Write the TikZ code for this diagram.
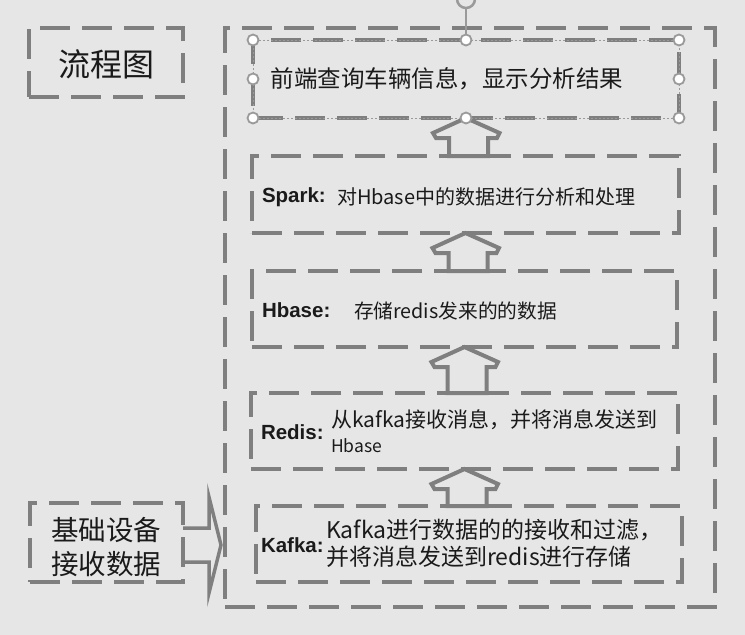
\documentclass[tikz,border=0pt]{standalone}
\usepackage{fontspec}
\setmainfont{Noto Sans CJK SC}
\newfontfamily\labfont{Liberation Sans}
\usetikzlibrary{calc}
\definecolor{bg}{HTML}{E6E6E6}
\definecolor{ln}{HTML}{7F7F7F}
\definecolor{tx}{HTML}{1A1A1A}
\definecolor{hd}{HTML}{9A9A9A}
\newcommand\blockup[2]{%
  \coordinate (hr-#1) at ($(#1.south)+(33.5,15)$);
  \coordinate (lr-#1) at ($(#1.south)+(31,20)$);
  \coordinate (sr-#1) at ($(#1.south)+(22,20)$);
  \coordinate (sl-#1) at ($(#1.south)+(-17,20)$);
  \coordinate (ll-#1) at ($(#1.south)+(-30,20)$);
  \coordinate (hl-#1) at ($(#1.south)+(-33,15)$);
  \draw[blockarrow] (#1.south) -- (hr-#1) -- (lr-#1) -- (sr-#1) -- (sr-#1 |- #2.north)
    -- (sl-#1 |- #2.north) -- (sl-#1) -- (ll-#1) -- (hl-#1) -- cycle;
}
\begin{document}
\begin{tikzpicture}[x=1pt,y=-1pt,
  dbox/.style={draw=ln, line width=4pt, dash pattern=on 30pt off 12pt, outer sep=0pt, inner sep=0pt},
  blockarrow/.style={draw=ln, line width=4pt, line join=miter},
  txt/.style={inner sep=0pt, outer sep=0pt, text=tx},
  lbl/.style={txt, anchor=west, font=\labfont\bfseries\fontsize{20.5}{24}\selectfont},
  handle/.style={draw=hd, fill=white, line width=1.8pt}]
\useasboundingbox (0,0) rectangle (745,635);
\clip (0,0) rectangle (745,635);
\fill[bg] (0,0) rectangle (745,635);

% frames
\node[dbox, minimum width=490pt, minimum height=579pt] (outer) at (470,317.5) {};
\node[dbox, minimum width=154pt, minimum height=69pt] (title) at (106,62.5) {};
\node[dbox, minimum width=153pt, minimum height=79pt] (left) at (106.5,542.5) {};
\node[dbox, minimum width=426pt, minimum height=78pt] (top) at (466,79) {};
\node[dbox, minimum width=427pt, minimum height=77pt] (spark) at (465.5,194.5) {};
\node[dbox, minimum width=425pt, minimum height=76pt] (hbase) at (464.5,309) {};
\node[dbox, minimum width=427pt, minimum height=76pt] (redis) at (464.5,431) {};
\node[dbox, minimum width=426pt, minimum height=76pt] (kafka) at (469,544) {};

% up block arrows
\blockup{top}{spark}
\blockup{spark}{hbase}
\blockup{hbase}{redis}
\blockup{redis}{kafka}

% right block arrow
\coordinate (ra0) at ($(left.east)+(0,2.5)$);
\coordinate (rtip) at ($(ra0)+(38,0)$);
\draw[ln, line width=3.5pt, line join=miter]
  ($(ra0)+(0,-17)$) -- ($(ra0)+(26,-17)$) -- ($(ra0)+(26,-48)$) -- (rtip)
  -- ($(ra0)+(26,48)$) -- ($(ra0)+(26,17)$) -- ($(ra0)+(0,17)$);

% selection decorations on top box
\draw[hd, line width=1pt, dash pattern=on 2pt off 2pt] (top.north west) rectangle (top.south east);
\coordinate (rot) at ($(top.north)+(0,-41)$);
\draw[hd, line width=1.5pt] (top.north) -- ($(top.north)+(0,-32)$);
\draw[hd, line width=2.5pt] (rot) circle[radius=9pt];
\foreach \a in {north west,north,north east,west,east,south west,south,south east}
  \node[handle, circle, minimum size=11pt, inner sep=0pt] at (top.\a) {};

% texts
\node[txt, font=\fontsize{32}{36}\selectfont] (ttitle) at (106,64) {流程图};
\node[txt, font=\fontsize{27.5}{34}\selectfont, align=center] (tleft) at (106,547) {基础设备\\接收数据};
\node[txt, font=\fontsize{23.5}{27}\selectfont] (ttop) at (447,79) {前端查询车辆信息，显示分析结果};

\node[lbl] (lspark) at (262,197) {Spark:};
\node[txt, anchor=west, font=\fontsize{20}{24}\selectfont] (dspark) at (337,197) {对Hbase中的数据进行分析和处理};

\node[lbl] (lhbase) at (262,310) {Hbase:};
\node[txt, anchor=west, font=\fontsize{19.7}{24}\selectfont] (dhbase) at (354,311) {存储redis发来的的数据};

\node[lbl] (lredis) at (261,432) {Redis:};
\node[txt, anchor=west, font=\fontsize{21}{24}\selectfont] (dredis1) at (331,420) {从kafka接收消息，并将消息发送到};
\node[txt, anchor=west, font=\fontsize{17.5}{20}\selectfont] (dredis2) at (331,446) {Hbase};

\node[lbl] (lkafka) at (261,545) {Kafka:};
\node[txt, anchor=west, font=\fontsize{23}{27}\selectfont] (dkafka1) at (326,530) {Kafka进行数据的的接收和过滤，};
\node[txt, anchor=west, font=\fontsize{23}{27}\selectfont] (dkafka2) at (326,557) {并将消息发送到redis进行存储};
\end{tikzpicture}
\end{document}
